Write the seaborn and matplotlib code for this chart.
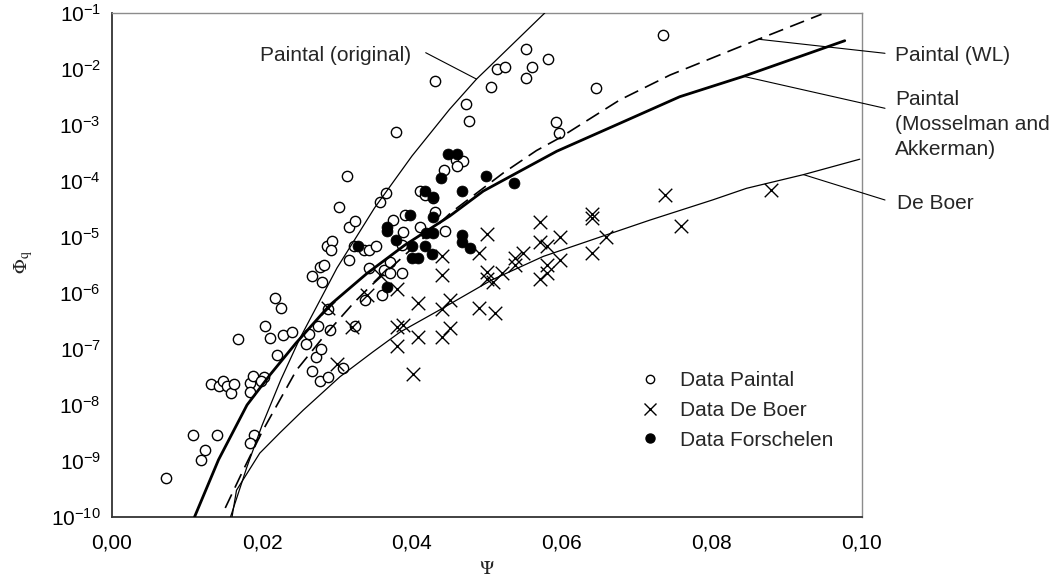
import matplotlib
matplotlib.use("Agg")
import matplotlib.pyplot as plt
import seaborn as sns
import pandas as pd
from matplotlib.ticker import FixedLocator, FuncFormatter, NullLocator
from matplotlib.lines import Line2D

# ---------------- data ----------------
paintal_x = [0.0072, 0.0108, 0.0124, 0.0119, 0.0140, 0.0132, 0.0142, 0.0148, 0.0153, 0.0158,
             0.0163, 0.0184, 0.0184, 0.0188, 0.0202, 0.0198, 0.0220, 0.0189, 0.0184, 0.0266,
             0.0277, 0.0288, 0.0272, 0.0308, 0.0168, 0.0204, 0.0210, 0.0217, 0.0225, 0.0228,
             0.0240, 0.0259, 0.0262, 0.0274, 0.0290, 0.0288, 0.0279, 0.0266, 0.0280, 0.0277,
             0.0282, 0.0287, 0.0293, 0.0292, 0.0303, 0.0316, 0.0324, 0.0316, 0.0322, 0.0336,
             0.0343, 0.0352, 0.0342, 0.0362, 0.0360, 0.0337, 0.0324, 0.0357, 0.0365, 0.0313,
             0.0378, 0.0431, 0.0552, 0.0581, 0.0513, 0.0524, 0.0560, 0.0552, 0.0505, 0.0472,
             0.0476, 0.0459, 0.0468, 0.0460, 0.0443, 0.0411, 0.0734, 0.0645, 0.0592, 0.0596,
             0.0375, 0.0391, 0.0417, 0.0428, 0.0431, 0.0411, 0.0444, 0.0388, 0.0386, 0.0370,
             0.0370, 0.0386]
paintal_y = [5.0e-10, 2.9e-9, 1.55e-9, 1.05e-9, 2.9e-9, 2.35e-8, 2.2e-8, 2.7e-8, 2.15e-8, 1.65e-8,
             2.35e-8, 2.5e-8, 1.7e-8, 3.3e-8, 3.2e-8, 2.7e-8, 7.8e-8, 2.9e-9, 2.1e-9, 4.1e-8,
             2.7e-8, 3.2e-8, 7.1e-8, 4.5e-8, 1.5e-7, 2.6e-7, 1.6e-7, 8.1e-7, 5.4e-7, 1.75e-7,
             2.05e-7, 1.25e-7, 1.85e-7, 2.6e-7, 2.2e-7, 5.1e-7, 9.8e-8, 2.05e-6, 1.6e-6, 2.9e-6,
             3.1e-6, 6.8e-6, 8.5e-6, 5.9e-6, 3.5e-5, 1.5e-5, 1.95e-5, 3.9e-6, 6.9e-6, 5.9e-6,
             5.9e-6, 6.8e-6, 2.8e-6, 2.6e-6, 9.1e-7, 7.4e-7, 2.6e-7, 4.3e-5, 6.0e-5, 1.25e-4,
             7.6e-4, 6.2e-3, 2.25e-2, 1.5e-2, 1.0e-2, 1.07e-2, 1.07e-2, 6.8e-3, 4.8e-3, 2.35e-3,
             1.17e-3, 2.35e-4, 2.3e-4, 1.85e-4, 1.6e-4, 6.5e-5, 4.0e-2, 4.5e-3, 1.15e-3, 7.1e-4,
             2.0e-5, 2.45e-5, 5.6e-5, 4.9e-5, 2.8e-5, 1.5e-5, 1.3e-5, 1.25e-5, 7.2e-6, 3.6e-6,
             2.25e-6, 2.25e-6]

deboer_x = [0.0737, 0.0878, 0.0759, 0.0500, 0.0570, 0.0640, 0.0640, 0.0440, 0.0489, 0.0570,
            0.0597, 0.0580, 0.0440, 0.0548, 0.0537, 0.0537, 0.0597, 0.0580, 0.0580, 0.0570,
            0.0640, 0.0658, 0.0500, 0.0500, 0.0508, 0.0520, 0.0408, 0.0440, 0.0450, 0.0489,
            0.0510, 0.0388, 0.0408, 0.0440, 0.0450, 0.0380, 0.0380, 0.0401, 0.0357, 0.0380,
            0.0340, 0.0288, 0.0320, 0.0300]
deboer_y = [5.6e-5, 6.8e-5, 1.6e-5, 1.12e-5, 1.85e-5, 2.6e-5, 2.15e-5, 4.5e-6, 5.1e-6, 8.3e-6,
            9.8e-6, 6.8e-6, 2.1e-6, 5.1e-6, 4.2e-6, 3.2e-6, 3.9e-6, 3.2e-6, 2.25e-6, 1.8e-6,
            5.1e-6, 9.8e-6, 2.4e-6, 1.8e-6, 1.6e-6, 2.25e-6, 6.6e-7, 5.1e-7, 7.4e-7, 5.5e-7,
            4.4e-7, 2.7e-7, 1.65e-7, 1.65e-7, 2.35e-7, 2.5e-7, 1.12e-7, 3.6e-8, 2.1e-6, 1.2e-6,
            9.1e-7, 5.4e-7, 2.5e-7, 5.4e-8]

forsch_x = [0.0448, 0.0460, 0.0438, 0.0498, 0.0536, 0.0467, 0.0417, 0.0428, 0.0397, 0.0428,
            0.0367, 0.0366, 0.0328, 0.0379, 0.0418, 0.0428, 0.0466, 0.0466, 0.0477, 0.0400,
            0.0417, 0.0400, 0.0408, 0.0427, 0.0366]
forsch_y = [3.0e-4, 3.0e-4, 1.12e-4, 1.23e-4, 9.1e-5, 6.5e-5, 6.5e-5, 5.2e-5, 2.45e-5, 2.3e-5,
            1.5e-5, 1.3e-5, 6.9e-6, 8.9e-6, 1.2e-5, 1.2e-5, 1.1e-5, 8.3e-6, 6.3e-6, 6.8e-6,
            6.8e-6, 4.2e-6, 4.2e-6, 5.0e-6, 1.3e-6]

orig_x = [0.0158, 0.0180, 0.0200, 0.0225, 0.0250, 0.0300, 0.0350, 0.0400, 0.0450, 0.0486, 0.0500, 0.0577]
orig_y = [1.0e-10, 7.9e-10, 4.3e-9, 2.8e-8, 1.5e-7, 2.8e-6, 3.3e-5, 2.8e-4, 1.9e-3, 6.6e-3, 1.0e-2, 1.0e-1]

wl_x = [0.0151, 0.0175, 0.0200, 0.0246, 0.0282, 0.0322, 0.0344, 0.0390, 0.0453, 0.0522,
        0.0566, 0.0596, 0.0677, 0.0744, 0.0862, 0.0946]
wl_y = [1.45e-10, 6.9e-10, 3.3e-9, 4.2e-8, 1.65e-7, 6.6e-7, 1.3e-6, 4.7e-6, 2.8e-5, 1.4e-4,
        3.5e-4, 5.8e-4, 2.8e-3, 7.8e-3, 3.4e-2, 9.5e-2]

mos_x = [0.0110, 0.0142, 0.0180, 0.0211, 0.0245, 0.0290, 0.0340, 0.0390, 0.0450, 0.0495,
         0.0544, 0.0593, 0.0677, 0.0757, 0.0842, 0.0977]
mos_y = [1.0e-10, 1.05e-9, 1.0e-8, 3.5e-8, 1.26e-7, 6.0e-7, 2.24e-6, 7.1e-6, 2.35e-5, 6.6e-5,
         1.5e-4, 3.4e-4, 1.07e-3, 3.2e-3, 7.4e-3, 3.2e-2]

deb_x = [0.0160, 0.0166, 0.0197, 0.0224, 0.0255, 0.0304, 0.0348, 0.0384, 0.0437, 0.0506,
         0.0575, 0.0660, 0.0717, 0.0801, 0.0846, 0.0922, 0.0997]
deb_y = [1.0e-10, 3.0e-10, 1.38e-9, 3.2e-9, 8.1e-9, 3.2e-8, 8.9e-8, 2.0e-7, 5.0e-7, 1.7e-6,
         4.5e-6, 1.1e-5, 2.0e-5, 4.6e-5, 7.4e-5, 1.3e-4, 2.45e-4]

x_ticks = [0.00, 0.02, 0.04, 0.06, 0.08, 0.10]
y_ticks = [1e-10, 1e-9, 1e-8, 1e-7, 1e-6, 1e-5, 1e-4, 1e-3, 1e-2, 1e-1]
legend_labels = ["Data Paintal", "Data De Boer", "Data Forschelen"]

# ---------------- style ----------------
sns.set_theme(style="white")
plt.rcParams["font.family"] = ["Liberation Sans", "DejaVu Sans"]
plt.rcParams["mathtext.fontset"] = "custom"
plt.rcParams["mathtext.rm"] = "Liberation Sans"
plt.rcParams["mathtext.it"] = "Liberation Sans:italic"
plt.rcParams["mathtext.bf"] = "Liberation Sans:bold"
FS = 15

W, H = 1055, 580
fig = plt.figure(figsize=(W / 100, H / 100), dpi=100)
ax = fig.add_axes([112 / W, 63 / H, 750 / W, 504 / H])
ax.set_yscale("log")

# ---------------- scatter data ----------------
sns.scatterplot(x=paintal_x, y=paintal_y, marker="o", s=55, color="white",
                edgecolor="black", linewidth=1.0, ax=ax, zorder=3, legend=False)
sns.scatterplot(x=deboer_x, y=deboer_y, marker="x", s=95, color="black",
                linewidth=1.0, ax=ax, zorder=3, legend=False)
sns.scatterplot(x=forsch_x, y=forsch_y, marker="o", s=62, color="black",
                edgecolor="black", linewidth=0.5, ax=ax, zorder=3, legend=False)

# ---------------- curves ----------------
sns.lineplot(x=orig_x, y=orig_y, sort=False, estimator=None, color="black", lw=0.9, ax=ax, zorder=4)
sns.lineplot(x=wl_x, y=wl_y, sort=False, estimator=None, color="black", lw=1.2,
             linestyle=(0, (9, 4.5)), ax=ax, zorder=4)
sns.lineplot(x=mos_x, y=mos_y, sort=False, estimator=None, color="black", lw=2.0, ax=ax, zorder=4)
sns.lineplot(x=deb_x, y=deb_y, sort=False, estimator=None, color="black", lw=0.9, ax=ax, zorder=4)

# ---------------- axes ----------------
ax.set_xlim(0, 0.10)
ax.set_ylim(1e-10, 1e-1)
ax.xaxis.set_major_locator(FixedLocator(x_ticks))
ax.xaxis.set_major_formatter(FuncFormatter(lambda v, p: f"{v:.2f}".replace(".", ",")))
ax.yaxis.set_major_locator(FixedLocator(y_ticks))
ax.yaxis.set_minor_locator(NullLocator())
ax.set_yticklabels([r"$\mathregular{10^{%d}}$" % e for e in range(-10, 0)])
ax.tick_params(axis="both", which="major", direction="out", length=5, width=1.0,
               color="black", labelsize=FS, labelcolor="black")
ax.tick_params(axis="x", pad=7)
ax.tick_params(axis="y", pad=3)
ax.grid(False)
for side in ["left", "bottom"]:
    ax.spines[side].set_color("#333333")
    ax.spines[side].set_linewidth(1.3)
for side in ["top", "right"]:
    ax.spines[side].set_color("#8c8c8c")
    ax.spines[side].set_linewidth(1.0)
ax.set_xlabel("")
ax.set_ylabel("")

fig.text(24 / W, 1 - 262 / H, r"$\Phi_\mathrm{q}$", rotation=90, fontsize=14,
         math_fontfamily="stix", ha="center", va="center")
fig.text(487 / W, 1 - 569 / H, r"$\Psi$", fontsize=14, math_fontfamily="stix",
         ha="center", va="center")

# ---------------- legend ----------------
handles = [
    Line2D([], [], marker="o", linestyle="none", markersize=6, markerfacecolor="white",
           markeredgecolor="black", markeredgewidth=1.0),
    Line2D([], [], marker="x", linestyle="none", markersize=8, color="black", markeredgewidth=1.0),
    Line2D([], [], marker="o", linestyle="none", markersize=6.5, markerfacecolor="black",
           markeredgecolor="black"),
]
ax.legend(handles, legend_labels, loc="upper left", bbox_to_anchor=(639.6 / W, 1 - 371 / H),
          bbox_transform=fig.transFigure, frameon=False, fontsize=FS, handlelength=1.0,
          handletextpad=0.94, labelspacing=0.52, borderpad=0, borderaxespad=0)

# ---------------- annotations ----------------
line_kw = dict(arrowstyle="-", color="black", lw=0.8, shrinkA=0, shrinkB=0)

def leader(xy, px, py):
    ax.annotate("", xy=xy, xycoords="data", xytext=(px, H - py), textcoords="figure pixels",
                arrowprops=line_kw, annotation_clip=False)

leader((orig_x[9], orig_y[9]), 425.7, 52.7)
leader((wl_x[14], wl_y[14]), 885, 53.3)
leader((mos_x[14], mos_y[14]), 885, 108.3)
leader((deb_x[15], deb_y[15]), 885, 200)

fig.text(260 / W, 1 - 60.7 / H, "Paintal (original)", fontsize=FS, ha="left", va="baseline")
fig.text(895 / W, 1 - 60.7 / H, "Paintal (WL)", fontsize=FS, ha="left", va="baseline")
# multi-line label: baseline alignment refers to the last line
fig.text(895 / W, 1 - 155 / H, "Paintal\n(Mosselman and\nAkkerman)", fontsize=FS,
         ha="left", va="baseline", linespacing=1.39)
fig.text(897 / W, 1 - 209 / H, "De Boer", fontsize=FS, ha="left", va="baseline")

fig.savefig("out.png", dpi=100)
